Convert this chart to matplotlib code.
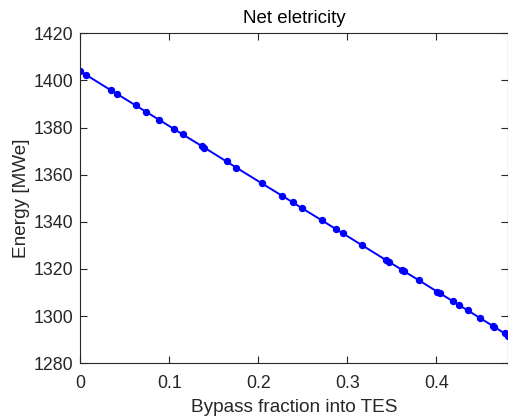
import matplotlib
matplotlib.use('Agg')
import matplotlib.pyplot as plt

# values
bypass = [0.000, 0.0067, 0.0345, 0.0408, 0.0622, 0.0739, 0.0885, 0.1057, 0.1150,
          0.1363, 0.1393, 0.1644, 0.1753, 0.2037, 0.2270, 0.2386, 0.2491, 0.2716,
          0.2869, 0.2947, 0.3169, 0.3430, 0.3470, 0.3620, 0.3640, 0.3805, 0.4010,
          0.4037, 0.4187, 0.4250, 0.4356, 0.4490, 0.4633, 0.4652, 0.4768, 0.4810]
energy = [1403.8, 1402.3, 1395.8, 1394.4, 1389.4, 1386.7, 1383.3, 1379.3, 1377.1,
          1372.2, 1371.5, 1365.6, 1363.0, 1356.4, 1351.0, 1348.3, 1345.8, 1340.6,
          1337.0, 1335.2, 1330.0, 1323.9, 1323.0, 1319.5, 1319.0, 1315.2, 1310.4,
          1309.8, 1306.3, 1304.8, 1302.4, 1299.2, 1295.9, 1295.4, 1292.7, 1291.7]

x_ticks = [0, 0.1, 0.2, 0.3, 0.4]
y_ticks = [1280, 1300, 1320, 1340, 1360, 1380, 1400, 1420]

plt.rcParams['font.family'] = ['Liberation Sans', 'DejaVu Sans']

fig = plt.figure(figsize=(5.08, 4.19), dpi=100)
ax = fig.add_axes([0.158, 0.133, 0.842, 0.7876])

ax.plot(bypass, energy, color='#0000ff', linewidth=1.4, marker='o',
        markersize=4.3, markerfacecolor='#0000ff', markeredgecolor='#0000ff')

ax.set_xlim(0, 0.4806)
ax.set_ylim(1280, 1420)
ax.set_xticks(x_ticks)
ax.set_xticklabels(['0', '0.1', '0.2', '0.3', '0.4'])
ax.set_yticks(y_ticks)

dark = '#262626'
for s in ax.spines.values():
    s.set_color(dark)
    s.set_linewidth(0.8)
ax.tick_params(direction='in', length=5, width=0.8, colors=dark, labelsize=12.8,
               top=True, right=True)
ax.tick_params(axis='x', pad=8.5)
ax.tick_params(axis='y', pad=5)

ax.set_title('Net eletricity', fontsize=13.5, color='black', pad=7.5)
ax.set_xlabel('Bypass fraction into TES', fontsize=13.7, color=dark, labelpad=5)
ax.set_ylabel('Energy [MWe]', fontsize=13.7, color=dark, labelpad=2.5)

fig.savefig('out.png', dpi=100)
